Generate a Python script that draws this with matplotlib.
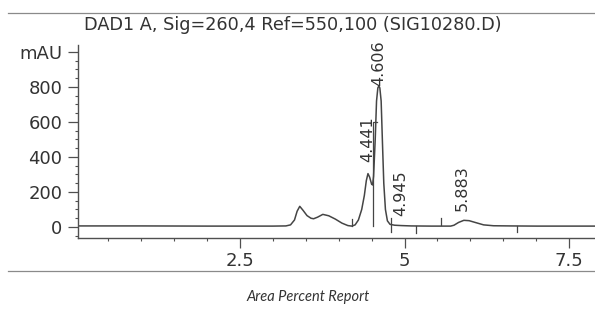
import matplotlib
matplotlib.use("Agg")
import matplotlib.pyplot as plt
from matplotlib.ticker import MultipleLocator, FixedLocator, FixedFormatter
from matplotlib.lines import Line2D

# ---- data ----
time_min = [0.045, 1.0, 2.0, 3.0, 3.2, 3.27, 3.33, 3.37, 3.41, 3.46, 3.52, 3.58, 3.62,
            3.68, 3.76, 3.85, 3.95, 4.05, 4.14, 4.20, 4.25, 4.30, 4.35, 4.39, 4.42,
            4.445, 4.47, 4.50, 4.515, 4.53, 4.555, 4.575, 4.595, 4.61, 4.625, 4.645,
            4.665, 4.685, 4.71, 4.74, 4.78, 4.85, 4.95, 5.1, 5.4, 5.7, 5.75, 5.82,
            5.90, 5.98, 6.08, 6.20, 6.35, 6.6, 7.0, 7.5, 7.89]
signal_mau = [6, 6, 5, 5, 6, 12, 40, 90, 118, 95, 65, 50, 47,
              56, 72, 64, 45, 22, 8, 5, 12, 40, 100, 180, 265,
              305, 285, 245, 240, 290, 500, 720, 795, 805, 795, 720,
              480, 250, 100, 35, 15, 10, 8, 6, 5, 5, 10, 26,
              38, 36, 25, 12, 7, 6, 5, 5, 5]

peak_labels = ["4.441", "4.606", "4.945", "5.883"]
peak_label_x = [4.441, 4.606, 4.945, 5.883]
peak_label_y = [370, 805, 62, 90]

# integration event marks (time, low mAU, high mAU)
mark_t = [4.20, 4.79, 5.17, 5.56, 6.71]
mark_lo = [5, -30, -35, 10, -30]
mark_hi = [48, 50, 5, 50, 5]

# drop line / leader near 4.441 / 4.606
drop_t = [4.515, 4.515, 4.575]
drop_y = [5, 600, 600]

x_major = [2.5, 5.0, 7.5]
x_major_labels = ["2.5", "5", "7.5"]
y_major = [0, 200, 400, 600, 800, 1000]
y_major_labels = ["0", "200", "400", "600", "800", "mAU"]

title = "DAD1 A, Sig=260,4 Ref=550,100 (SIG10280.D)"
footer = "Area Percent Report"

# ---- figure ----
W, H = 595, 310
fig = plt.figure(figsize=(W / 100, H / 100), dpi=100)
fig.patch.set_facecolor("white")

ink = "#333333"
line_c = "#454545"
ax = fig.add_axes([78 / W, (H - 238) / H, 1 - 78 / W, (238 - 45) / H])
ax.plot(time_min, signal_mau, color=line_c, lw=1.1)
ax.plot(drop_t, drop_y, color=line_c, lw=0.9)
for t, lo, hi in zip(mark_t, mark_lo, mark_hi):
    ax.plot([t, t], [lo, hi], color=line_c, lw=0.9)

for lab, x, y in zip(peak_labels, peak_label_x, peak_label_y):
    ax.text(x, y, lab, rotation=90, ha="center", va="bottom",
            fontsize=11.5, color=ink)

ax.set_xlim(0.045, 7.89)
ax.set_ylim(-63, 1040)

for s in ["top", "right"]:
    ax.spines[s].set_visible(False)
for s in ["left", "bottom"]:
    ax.spines[s].set_color("#505050")
    ax.spines[s].set_linewidth(1.0)

ax.xaxis.set_major_locator(FixedLocator(x_major))
ax.xaxis.set_major_formatter(FixedFormatter(x_major_labels))
ax.xaxis.set_minor_locator(MultipleLocator(0.5))
ax.yaxis.set_major_locator(FixedLocator(y_major))
ax.yaxis.set_major_formatter(FixedFormatter(y_major_labels))
ax.yaxis.set_minor_locator(MultipleLocator(50))

ax.tick_params(axis="both", which="major", direction="out", length=7.2,
               width=0.9, color="#505050", labelsize=13, labelcolor=ink)
ax.tick_params(axis="x", which="major", pad=3.0)
ax.tick_params(axis="y", which="major", pad=4.0)
ax.tick_params(axis="both", which="minor", direction="out", length=2.5,
               width=0.8, color="#505050")

# frame lines of the report
fig.add_artist(Line2D([8 / W, 1.0], [(H - 12.5) / H] * 2, color="#8a8a8a", lw=0.9))
fig.add_artist(Line2D([8 / W, 1.0], [(H - 271) / H] * 2, color="#8a8a8a", lw=0.9))

fig.text(293 / W, (H - 24.5) / H, title, ha="center", va="center",
         fontsize=12.7, color=ink)
fig.text(308 / W, (H - 297) / H, footer, ha="center", va="center",
         fontsize=10.5, style="italic", family="Lato", color=ink)

fig.savefig("out.png", dpi=100)
